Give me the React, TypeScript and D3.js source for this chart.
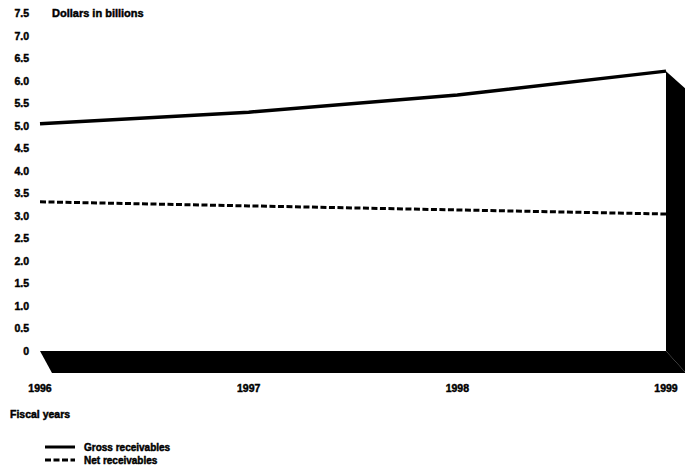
import { useRef, useEffect } from 'react'
import * as d3 from 'd3';

const years = [1996, 1997, 1998, 1999];
const grossReceivables = [5.04, 5.3, 5.68, 6.21];
const netReceivables = [3.31, 3.22, 3.13, 3.04];
const yTicks = [0, 0.5, 1.0, 1.5, 2.0, 2.5, 3.0, 3.5, 4.0, 4.5, 5.0, 5.5, 6.0, 6.5, 7.0, 7.5];

function App() {
    const d3Container = useRef(null);

    const width = 685;
    const height = 476;

    useEffect(() => {
        const marginLeft = 40;
        const marginRight = 19;
        const zeroY = 351;
        const topY = 13;
        const depthX = 15;
        const depthY = 21;

        const svg = d3.select(d3Container.current);
        svg.selectAll("*").remove();

        const x = d3.scaleLinear()
                    .domain([years[0], years[years.length - 1]])
                    .range([marginLeft, width - marginRight]);

        const y = d3.scaleLinear()
                    .domain([0, 7.5])
                    .range([zeroY, topY]);

        const font = "'Liberation Sans', Arial, sans-serif";

        // heavy, slightly smeared text like the scanned original
        function label(sel) {
            return sel.attr("font-family", font)
                      .attr("font-weight", "bold")
                      .attr("font-size", 10.5)
                      .attr("stroke", "#000")
                      .attr("stroke-width", 0.45);
        }

        // the black 3D floor and right wall
        const x0 = x(years[0]);
        const x1 = x(years[years.length - 1]);
        const yEnd = y(grossReceivables[grossReceivables.length - 1]);

        svg.append("path")
           .attr("d", `M${x0},${y(0)} L${x1},${y(0)} L${x1 + depthX + 5},${y(0) + depthY + 1} L${x0 + 12},${y(0) + depthY + 1} Z`)
           .attr("fill", "#000");

        svg.append("path")
           .attr("d", `M${x1},${yEnd} L${x1 + depthX + 5},${yEnd + depthY - 3} L${x1 + depthX + 5},${y(0) + depthY + 1} L${x1},${y(0)} Z`)
           .attr("fill", "#000");

        // y tick labels
        svg.append("g")
           .selectAll("text")
           .data(yTicks)
           .join("text")
           .attr("x", 29)
           .attr("y", (d) => y(d) + 4)
           .attr("text-anchor", "end")
           .call(label)
           .text((d) => d === 0 ? "0" : d.toFixed(1));

        svg.append("text")
           .attr("x", 52)
           .attr("y", y(7.5) + 4)
           .call(label)
           .attr("font-size", 11)
           .text("Dollars in billions");

        // x labels
        svg.append("g")
           .selectAll("text")
           .data(years)
           .join("text")
           .attr("x", (d) => x(d))
           .attr("y", 392)
           .attr("text-anchor", "middle")
           .call(label)
           .text((d) => d);

        svg.append("text")
           .attr("x", 10)
           .attr("y", 418)
           .call(label)
           .text("Fiscal years");

        const line = d3.line<number>()
                       .x((d, i) => x(years[i]))
                       .y((d) => y(d));

        svg.append("path")
           .datum(grossReceivables)
           .attr("d", line)
           .attr("fill", "none")
           .attr("stroke", "#000")
           .attr("stroke-width", 3.5);

        svg.append("path")
           .datum(netReceivables)
           .attr("d", line)
           .attr("fill", "none")
           .attr("stroke", "#000")
           .attr("stroke-width", 3)
           .attr("stroke-dasharray", "6,2.5");

        // legend
        const legend = [
            { label: "Gross receivables", dash: null },
            { label: "Net receivables", dash: "6,2.5" }
        ];
        const lg = svg.append("g");
        legend.forEach((d, i) => {
            const ly = 447 + i * 13;
            lg.append("line")
              .attr("x1", 45)
              .attr("x2", 75)
              .attr("y1", ly)
              .attr("y2", ly)
              .attr("stroke", "#000")
              .attr("stroke-width", 3)
              .attr("stroke-dasharray", d.dash);
            lg.append("text")
              .attr("x", 84)
              .attr("y", ly + 4)
              .call(label)
              .attr("font-size", 10)
              .text(d.label);
        });
    }, []);

    return (
        <svg width={width}
             height={height}
             ref={d3Container}
             style={{ position: "absolute", left: 0, top: 0, background: "#fff" }} />
    )
}

export default App;
